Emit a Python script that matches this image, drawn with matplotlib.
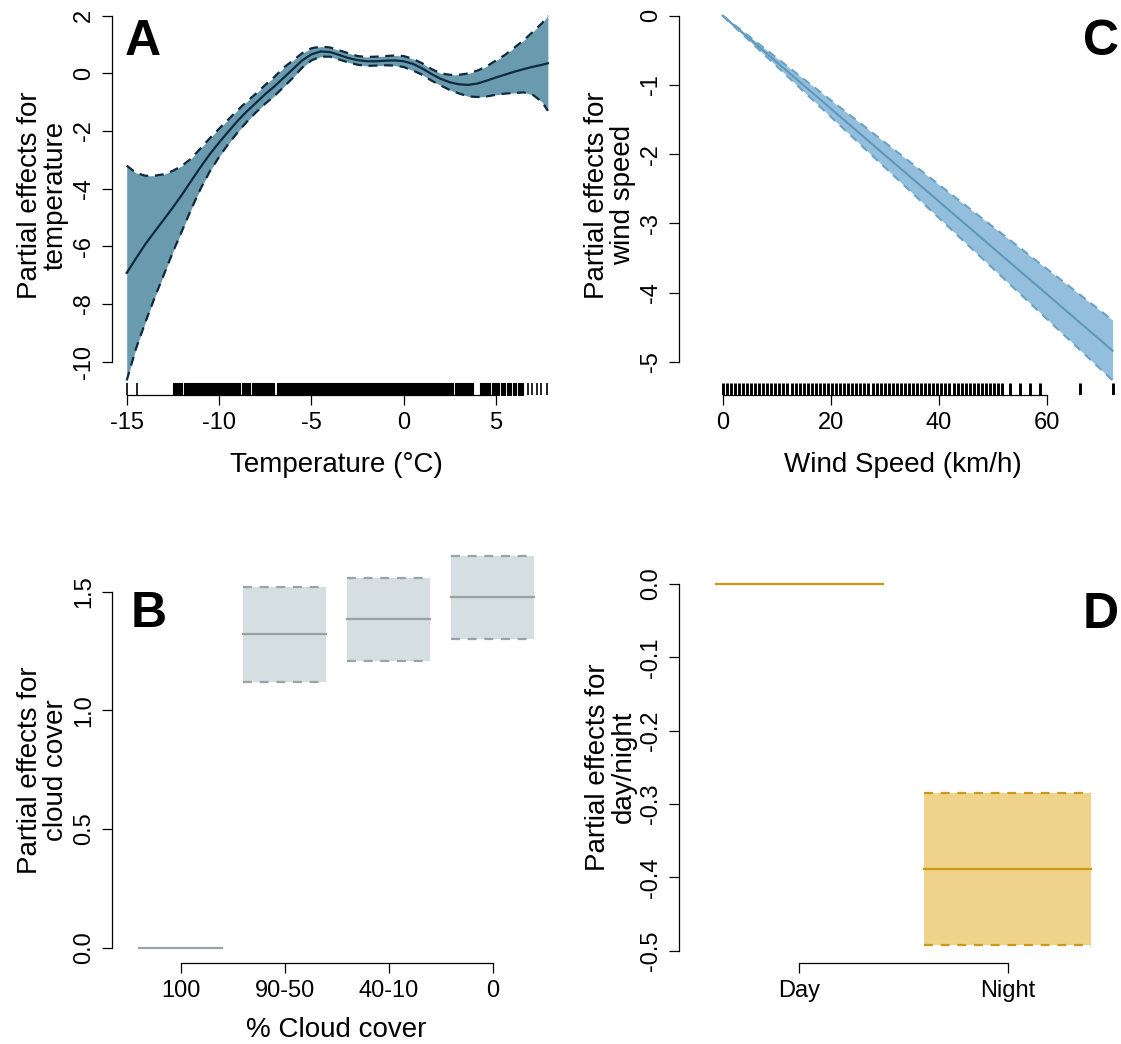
import matplotlib
matplotlib.use("Agg")
import matplotlib.pyplot as plt
import matplotlib.transforms as mtrans

plt.rcParams['font.family'] = ['Liberation Sans', 'DejaVu Sans']
plt.rcParams['axes.unicode_minus'] = False

# ---------------- data ----------------
# Panel A: temperature smooth
temp_x = [-15, -14.5, -14, -13.5, -13, -12.5, -12, -11.5, -11, -10.5, -10, -9.5, -9, -8.5,
          -8, -7.5, -7, -6.5, -6, -5.5, -5, -4.5, -4, -3.5, -3, -2.5, -2, -1.5, -1, -0.5,
          0, 0.5, 1, 1.5, 2, 2.5, 3, 3.5, 4, 4.5, 5, 5.5, 6, 6.5, 7, 7.5, 7.8]
temp_fit = [-6.92, -6.42, -5.93, -5.5, -5.08, -4.65, -4.2, -3.72, -3.25, -2.8, -2.4, -2.02,
            -1.65, -1.32, -1.02, -0.72, -0.45, -0.15, 0.15, 0.45, 0.66, 0.76, 0.74, 0.64,
            0.53, 0.46, 0.42, 0.42, 0.44, 0.45, 0.42, 0.33, 0.17, -0.02, -0.19, -0.31,
            -0.38, -0.4, -0.35, -0.25, -0.14, -0.04, 0.06, 0.15, 0.23, 0.3, 0.35]
temp_upper = [-3.2, -3.45, -3.55, -3.55, -3.5, -3.38, -3.2, -2.95, -2.6, -2.25, -1.92,
              -1.6, -1.28, -0.98, -0.7, -0.4, -0.12, 0.2, 0.45, 0.7, 0.87, 0.93, 0.9, 0.8,
              0.7, 0.6, 0.57, 0.58, 0.6, 0.62, 0.6, 0.5, 0.35, 0.15, 0.0, -0.05, -0.05, 0.0,
              0.1, 0.25, 0.45, 0.65, 0.9, 1.15, 1.45, 1.75, 2.0]
temp_lower = [-10.65, -9.55, -8.65, -7.8, -7.0, -6.2, -5.45, -4.7, -4.0, -3.4, -2.9,
              -2.45, -2.05, -1.68, -1.35, -1.05, -0.78, -0.47, -0.15, 0.2, 0.45, 0.58, 0.58,
              0.48, 0.38, 0.3, 0.26, 0.27, 0.28, 0.27, 0.22, 0.1, -0.05, -0.25, -0.42,
              -0.58, -0.7, -0.8, -0.82, -0.8, -0.74, -0.7, -0.68, -0.66, -0.75, -1.0, -1.3]
# rug of observed temperatures: single values and dense blocks (start, end)
temp_rug_single = [-15.0, -14.45, 6.7, 6.95, 7.2, 7.45, 7.75]
temp_rug_blocks = [(-12.5, -11.98), (-11.92, -8.85), (-8.75, -8.3), (-8.2, -7.05),
                   (-6.85, 2.12), (2.2, 2.65), (2.75, 3.75), (4.15, 4.65), (4.75, 5.15),
                   (5.25, 5.5), (5.6, 5.8), (5.9, 6.1), (6.2, 6.45)]
temp_ticks = [-15, -10, -5, 0, 5]
temp_yticks = [2, 0, -2, -4, -6, -8, -10]

# Panel C: wind speed (linear effect)
wind_x = [0, 72.2]
wind_fit = [0, -4.84]
wind_upper = [0, -4.40]
wind_lower = [0, -5.27]
wind_rug = [0, 0.75, 1.5, 2.25, 3, 3.75, 4.5, 5.25, 6, 6.75, 7.5, 8.25, 9, 9.75, 10.5,
            11.25, 12, 12.75, 13.5, 14.25, 15, 15.75, 16.5, 17.25, 18, 18.75, 19.5, 20.25,
            21, 21.75, 22.5, 23.25, 24, 24.75, 25.5, 26.25, 27, 27.75, 28.5, 29.25, 30,
            30.75, 31.5, 32.25, 33, 33.75, 34.5, 35.25, 36, 36.75, 37.5, 38.25, 39, 39.75,
            40.5, 41.25, 42, 42.75, 43.5, 44.25, 45, 45.75, 46.5, 47.25, 48, 48.75, 49.5,
            50.25, 51, 51.75, 53.2, 55.1, 56.9, 58.8, 66.2, 72.2]
wind_ticks = [0, 20, 40, 60]
wind_yticks = [0, -1, -2, -3, -4, -5]

# Panel B: cloud cover (factor)
cloud_cats = ["100", "90-50", "40-10", "0"]
cloud_fit = [0.0, 1.32, 1.385, 1.477]
cloud_upper = [0.0, 1.52, 1.56, 1.652]
cloud_lower = [0.0, 1.12, 1.21, 1.303]
cloud_yticks = [0.0, 0.5, 1.0, 1.5]

# Panel D: day / night (factor)
dn_cats = ["Day", "Night"]
dn_fit = [0.0, -0.388]
dn_upper = [0.0, -0.2846]
dn_lower = [0.0, -0.4923]
dn_yticks = [0.0, -0.1, -0.2, -0.3, -0.4, -0.5]

# ---------------- figure ----------------
W, H = 1121, 1044
fig = plt.figure(figsize=(W / 100, H / 100), dpi=100)


def make_ax(left, right, top, bottom):
    return fig.add_axes([left / W, 1 - bottom / H, (right - left) / W, (bottom - top) / H])


TICK_FS = 17
LAB_FS = 20
LET_FS = 36


def style(ax, xb, yb):
    for s in ['top', 'right']:
        ax.spines[s].set_visible(False)
    for s in ['left', 'bottom']:
        ax.spines[s].set_linewidth(0.9)
    ax.spines['bottom'].set_bounds(*xb)
    ax.spines['left'].set_bounds(*yb)
    ax.tick_params(axis='both', length=7.2, width=0.9, direction='out')
    ax.tick_params(axis='x', pad=5.0)
    ax.tick_params(axis='y', pad=5.0)
    for lab in ax.get_yticklabels():
        lab.set_rotation(90)
        lab.set_va('center')


def lab(v, nd=0):
    return ("%." + str(nd) + "f") % v


def ylabel2(line1, line2, x1, x2, yc):
    fig.text(x1 / W, 1 - yc / H, line1, rotation=90, rotation_mode='anchor',
             ha='center', va='baseline', fontsize=LAB_FS)
    fig.text(x2 / W, 1 - yc / H, line2, rotation=90, rotation_mode='anchor',
             ha='center', va='baseline', fontsize=LAB_FS)


def letter(s, x, y):
    fig.text(x / W, 1 - y / H, s, fontsize=LET_FS, fontweight='bold', ha='left', va='baseline')


# ---- Panel A ----
axA = make_ax(112.3, 561.9, 0, 395)
axA.set_xlim(-15.78, 8.56)
axA.set_ylim(-11.156, 2.545)
colA_fill = '#699aae'
colA_line = '#0f2a3d'
axA.fill_between(temp_x, temp_lower, temp_upper, color=colA_fill, lw=0)
axA.plot(temp_x, temp_fit, color=colA_line, lw=1.6)
axA.plot(temp_x, temp_upper, color=colA_line, lw=1.6, dashes=(4, 3))
axA.plot(temp_x, temp_lower, color=colA_line, lw=1.6, dashes=(4, 3))
trA = mtrans.blended_transform_factory(axA.transData, axA.transAxes)
for (a, b) in temp_rug_blocks:
    axA.fill_between([a, b], [0, 0], [0.031, 0.031], transform=trA, color='black', lw=0.8,
                     edgecolor='black')
axA.vlines(temp_rug_single, 0, 0.031, transform=trA, color='black', lw=1.2)
axA.set_xticks(temp_ticks)
axA.set_xticklabels([lab(v) for v in temp_ticks], fontsize=TICK_FS)
axA.set_yticks(temp_yticks)
axA.set_yticklabels([lab(v) for v in temp_yticks], fontsize=TICK_FS)
style(axA, (-15, 5), (-10, 2))
fig.text(336 / W, 1 - 472 / H, "Temperature (°C)", ha='center', va='baseline', fontsize=LAB_FS)
ylabel2("Partial effects for", "temperature", 37, 63, 195)
letter("A", 125, 55)

# ---- Panel C ----
axC = make_ax(679, 1121, 0, 395)
axC.set_xlim(-8.09, 73.76)
axC.set_ylim(-5.481, 0.227)
colC_fill = '#93bfdc'
colC_line = '#5e98bc'
colC_dash = '#6aa2c8'
axC.fill_between(wind_x, wind_lower, wind_upper, color=colC_fill, lw=0)
axC.plot(wind_x, wind_fit, color=colC_line, lw=1.5)
axC.plot(wind_x, wind_upper, color=colC_dash, lw=1.5, dashes=(4, 3))
axC.plot(wind_x, wind_lower, color=colC_dash, lw=1.5, dashes=(4, 3))
trC = mtrans.blended_transform_factory(axC.transData, axC.transAxes)
axC.vlines(wind_rug, 0, 0.031, transform=trC, color='black', lw=2.1)
axC.set_xticks(wind_ticks)
axC.set_xticklabels([lab(v) for v in wind_ticks], fontsize=TICK_FS)
axC.set_yticks(wind_yticks)
axC.set_yticklabels([lab(v) for v in wind_yticks], fontsize=TICK_FS)
style(axC, (0, 60), (-5, 0))
fig.text(903 / W, 1 - 472 / H, "Wind Speed (km/h)", ha='center', va='baseline', fontsize=LAB_FS)
ylabel2("Partial effects for", "wind speed", 604, 630, 195)
letter("C", 1083, 55)

# ---- Panel B ----
axB = make_ax(111.7, 561.3, 530, 963.3)
axB.set_xlim(0.3365, 4.66)
axB.set_ylim(-0.0657, (947.7 - 530) / 237.3)
colB_fill = '#d5dfe2'
colB_line = '#97a3a4'
hw = 0.4
for i, (f, lo, up) in enumerate(zip(cloud_fit, cloud_lower, cloud_upper)):
    xc = i + 1
    if up > lo:
        axB.fill_between([xc - hw, xc + hw], [lo, lo], [up, up], color=colB_fill, lw=0)
        axB.plot([xc - hw, xc + hw], [up, up], color=colB_line, lw=1.6, dashes=(4, 3.5))
        axB.plot([xc - hw, xc + hw], [lo, lo], color=colB_line, lw=1.6, dashes=(4, 3.5))
    axB.plot([xc - hw, xc + hw], [f, f], color=colB_line, lw=1.6)
axB.set_xticks(range(1, len(cloud_cats) + 1))
axB.set_xticklabels(cloud_cats, fontsize=TICK_FS)
axB.set_yticks(cloud_yticks)
axB.set_yticklabels([lab(v, 1) for v in cloud_yticks], fontsize=TICK_FS)
style(axB, (1, 4), (0, 1.5))
fig.text(336 / W, 1 - 1037 / H, "% Cloud cover", ha='center', va='baseline', fontsize=LAB_FS)
ylabel2("Partial effects for", "cloud cover", 37, 63, 770)
letter("B", 131, 627)

# ---- Panel D ----
axD = make_ax(679, 1121, 530, 963.3)
axD.set_xlim(0.4227, 2.5437)
axD.set_ylim(-0.5172, (584 - 530) / 733.3)
colD_fill = '#f0d38b'
colD_line = '#cf9717'
for i, (f, lo, up) in enumerate(zip(dn_fit, dn_lower, dn_upper)):
    xc = i + 1
    if up > lo:
        axD.fill_between([xc - hw, xc + hw], [lo, lo], [up, up], color=colD_fill, lw=0)
        axD.plot([xc - hw, xc + hw], [up, up], color=colD_line, lw=1.6, dashes=(4, 3.5))
        axD.plot([xc - hw, xc + hw], [lo, lo], color=colD_line, lw=1.6, dashes=(4, 3.5))
    axD.plot([xc - hw, xc + hw], [f, f], color=colD_line, lw=1.6)
axD.set_xticks(range(1, len(dn_cats) + 1))
axD.set_xticklabels(dn_cats, fontsize=TICK_FS)
axD.set_yticks(dn_yticks)
axD.set_yticklabels([lab(v, 1) for v in dn_yticks], fontsize=TICK_FS)
style(axD, (1, 2), (-0.5, 0))
ylabel2("Partial effects for", "day/night", 605, 631, 767)
letter("D", 1083, 628)

fig.savefig("out.png", dpi=100)
